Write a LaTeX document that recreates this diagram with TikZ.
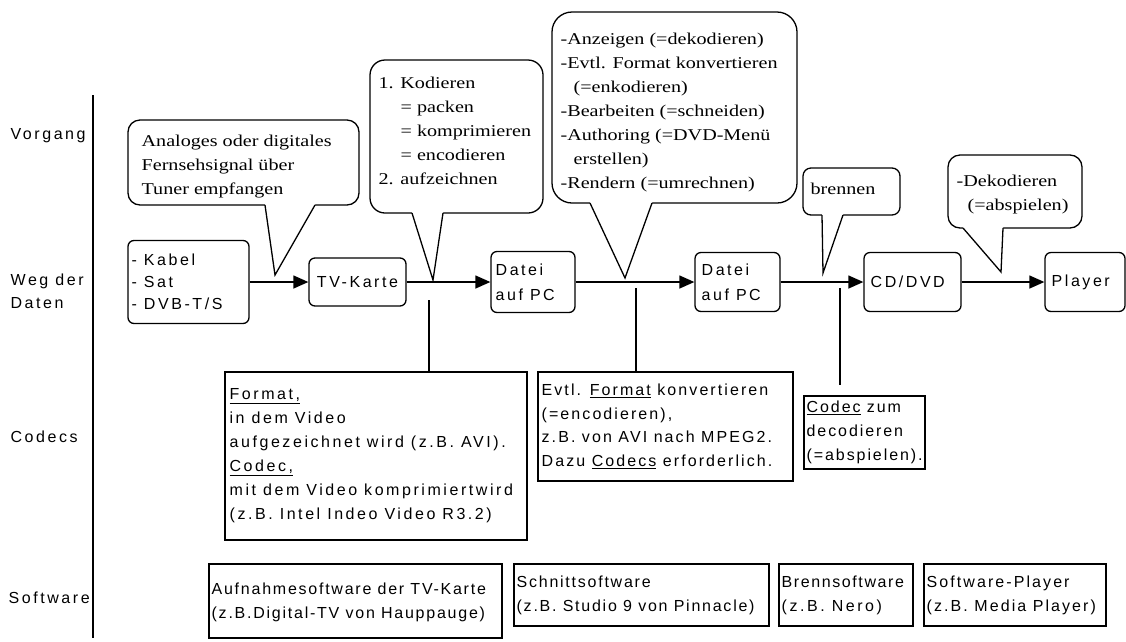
\documentclass[tikz,border=0pt]{standalone}
\usepackage{fontspec}
\setmainfont{Liberation Serif}
\newfontfamily\pixsans{Liberation Sans}[LetterSpace=16]
\newfontfamily\pixserif{Liberation Serif}[FakeStretch=1.22]
\usetikzlibrary{arrows.meta}
\newcommand{\sansat}[1]{\pixsans\fontsize{16pt}{#1}\selectfont}
\begin{document}
\begin{tikzpicture}[x=1pt,y=-1pt, line width=1.3pt,
  sansf/.style={font=\sansat{23pt}},
  serf/.style={font=\pixserif\fontsize{16.5pt}{24pt}\selectfont},
  lbl/.style={sansf, anchor=west, inner sep=0pt, align=left},
  flowbox/.style={draw, rounded corners=6pt, inner sep=0pt},
  boxtext/.style={sansf, align=left, inner sep=0pt, anchor=west},
  callout/.style={draw, fill=white, rounded corners=12pt, inner sep=0pt},
  calltext/.style={serf, align=left, inner sep=0pt, anchor=north west},
  plainbox/.style={draw, line width=1.5pt, inner sep=0pt},
  flow/.style={-{Triangle[length=15pt,width=13pt]}},
]
\fill[white] (0,0) rectangle (1126,641);
\useasboundingbox (0,0) rectangle (1126,641);

% axis and row labels
\coordinate (axtop) at (93,95);
\coordinate (axbot) at (93,638);
\draw (axtop) -- (axbot);
\node[lbl] (lv) at (10,136) {Vorgang};
\node[lbl] (lw) at (10,291) {Weg der\\Daten};
\node[lbl] (lc) at (10,437) {Codecs};
\node[lbl] (ls) at (8,598) {Software};

% callouts
\node[callout, minimum width=231pt, minimum height=85pt] (c1) at (243.5,162.5) {};
\node[calltext] (c1t) at (141,134) {Analoges oder digitales\\Fernsehsignal über\\Tuner empfangen};
\node[callout, rounded corners=15pt, minimum width=173pt, minimum height=153pt] (c2) at (456.5,136.5) {};
\node[calltext] (c2t) at (378,76) {1. Kodieren\\\hspace*{22pt}= packen\\\hspace*{22pt}= komprimieren\\\hspace*{22pt}= encodieren\\2. aufzeichnen};
\node[callout, rounded corners=20pt, minimum width=245pt, minimum height=191pt] (c3) at (674.5,107.5) {};
\node[calltext] (c3t) at (560,32) {-Anzeigen (=dekodieren)\\-Evtl. Format konvertieren\\\hspace*{13pt}(=enkodieren)\\-Bearbeiten (=schneiden)\\-Authoring (=DVD-Menü\\\hspace*{13pt}erstellen)\\-Rendern (=umrechnen)};
\node[callout, rounded corners=8pt, minimum width=97pt, minimum height=47pt] (c4) at (851.5,191.5) {};
\node[calltext] (c4t) at (810,182) {brennen};
\node[callout, minimum width=134pt, minimum height=73pt] (c5) at (1015,191.5) {};
\node[calltext] (c5t) at (956,174) {-Dekodieren\\\hspace*{11pt}(=abspielen)};

% callout pointers
\coordinate (p1a) at (265,205); \coordinate (p1t) at (275,275); \coordinate (p1b) at (315,205);
\coordinate (p2a) at (412,213); \coordinate (p2t) at (433,280); \coordinate (p2b) at (443,213);
\coordinate (p3a) at (590,203); \coordinate (p3t) at (625,278); \coordinate (p3b) at (652,203);
\coordinate (p4a) at (822,215); \coordinate (p4t) at (823,273); \coordinate (p4b) at (843,215);
\coordinate (p5a) at (963,228); \coordinate (p5t) at (1001,272); \coordinate (p5b) at (1003,228);
\foreach \p in {p1,p2,p3,p4,p5}{
  \fill[white] (\p a) -- (\p t) -- (\p b) -- ++(0,-2.5) -| (\p a) -- cycle;
  \draw[line join=miter] (\p a) -- (\p t) -- (\p b);
}

% data path
\node[flowbox, minimum width=121pt, minimum height=83pt] (src) at (188.5,282) {};
\node[boxtext, font=\sansat{22pt}] (srct) at (131,282) {- Kabel\\- Sat\\- DVB-T/S};
\node[flowbox, sansf, minimum width=97pt, minimum height=48pt] (tv) at (357.5,282) {TV-Karte};
\node[flowbox, minimum width=84pt, minimum height=61pt] (d1) at (533,282) {};
\node[boxtext, font=\sansat{25pt}] (d1t) at (495,282) {Datei\\auf PC};
\node[flowbox, minimum width=85pt, minimum height=59pt] (d2) at (737.5,282) {};
\node[boxtext, font=\sansat{25pt}] (d2t) at (701,282) {Datei\\auf PC};
\node[flowbox, minimum width=97pt, minimum height=59pt] (cd) at (912.5,282) {};
\node[boxtext] (cdt) at (870,282) {CD/DVD};
\node[flowbox, minimum width=80pt, minimum height=59pt] (pl) at (1085,282) {};
\node[boxtext] (plt) at (1051,282) {Player};

\draw[flow] (src) -- (tv);
\draw[flow] (tv) -- (d1);
\draw[flow] (d1) -- (d2);
\draw[flow] (d2) -- (cd);
\draw[flow] (cd) -- (pl);

% codecs
\node[plainbox, minimum width=302pt, minimum height=168pt] (k1) at (376,456) {};
\node[boxtext, font=\sansat{24pt}] (k1t) at (229,456) {\underline{Format,}\\in dem Video\\aufgezeichnet wird (z.B. AVI).\\\underline{Codec,}\\mit dem Video komprimiertwird\\(z.B. Intel Indeo Video R3.2)};
\node[plainbox, minimum width=255pt, minimum height=109pt] (k2) at (665.5,426.5) {};
\node[boxtext, font=\sansat{23.5pt}\addfontfeature{LetterSpace=13}] (k2t) at (541,426.5) {Evtl. \underline{Format} konvertieren\\(=encodieren),\\z.B. von AVI nach MPEG2.\\Dazu \underline{Codecs} erforderlich.};
\node[plainbox, minimum width=121pt, minimum height=73pt] (k3) at (864.5,432.5) {};
\node[boxtext, font=\sansat{24pt}\addfontfeature{LetterSpace=12}] (k3t) at (806,432.5) {\underline{Codec} zum\\decodieren\\(=abspielen).};

\coordinate (k1s) at (429,300);
\coordinate (k2s) at (636,288);
\coordinate (k3s) at (840,288);
\coordinate (k3e) at (840,385);
\draw (k1s) -- (k1s |- k1.north);
\draw (k2s) -- (k2s |- k2.north);
\draw (k3s) -- (k3e);

% software
\node[plainbox, minimum width=293pt, minimum height=74pt] (s1) at (355.5,601) {};
\node[boxtext, font=\sansat{24pt}\addfontfeature{LetterSpace=11}] (s1t) at (211,602) {Aufnahmesoftware der TV-Karte\\(z.B.Digital-TV von Hauppauge)};
\node[plainbox, minimum width=255pt, minimum height=62pt] (s2) at (641.5,595) {};
\node[boxtext, font=\sansat{24pt}\addfontfeature{LetterSpace=11}] (s2t) at (516,595.5) {Schnittsoftware\\(z.B. Studio 9 von Pinnacle)};
\node[plainbox, minimum width=134pt, minimum height=62pt] (s3) at (846,595) {};
\node[boxtext, font=\sansat{24pt}] (s3t) at (781,595.5) {{\addfontfeature{LetterSpace=10}Brennsoftware}\\(z.B. Nero)};
\node[plainbox, minimum width=182pt, minimum height=62pt] (s4) at (1015,595) {};
\node[boxtext, font=\sansat{24pt}\addfontfeature{LetterSpace=13}] (s4t) at (926,595.5) {Software-Player\\(z.B. Media Player)};
\end{tikzpicture}
\end{document}
